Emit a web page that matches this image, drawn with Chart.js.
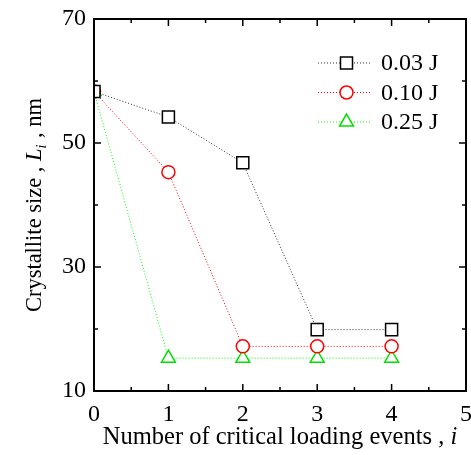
<!DOCTYPE html>
<html>
<head>
<meta charset="utf-8">
<script src="https://cdn.jsdelivr.net/npm/chart.js@4"></script>
<style>
  html, body { margin: 0; padding: 0; background: #fff; }
  #wrap { width: 471px; height: 455px; }
</style>
</head>
<body>
<div id="wrap"><canvas id="myChart" width="471" height="455"></canvas></div>
<script>
const events = [0, 1, 2, 3, 4]
const size003 = [58.3, 54.2, 46.8, 19.9, 19.9]
const size010 = [58.3, 45.3, 17.2, 17.2, 17.2]
const size025 = [58.3, 15.3, 15.3, 15.3, 15.3]
const seriesLabels = ['0.03 J', '0.10 J', '0.25 J']
const xTicks = [0, 1, 2, 3, 4, 5]
const yTicks = [10, 30, 50, 70]

const serif = '"Liberation Serif", "Times New Roman", serif'

const toPoints = (vals) => vals.map((v, i) => ({ x: events[i], y: v }))

const makeSet = (label, vals, color, lineColor, style, radius) => ({
  label: label,
  data: toPoints(vals),
  borderColor: lineColor,
  borderWidth: 1,
  borderDash: [1, 2],
  pointStyle: style,
  pointRadius: radius,
  pointBorderColor: color,
  pointBackgroundColor: '#fff',
  pointBorderWidth: 1.5,
  tension: 0,
})

// frame with inward ticks on all four sides
const framePlugin = {
  id: 'frame',
  afterDatasetsDraw(chart) {
    const { ctx, chartArea: a, scales } = chart
    ctx.save()
    ctx.strokeStyle = '#000'
    ctx.lineWidth = 2
    ctx.strokeRect(a.left, a.top, a.right - a.left, a.bottom - a.top)
    ctx.lineWidth = 1.5
    for (let v = 0; v <= 5; v += 0.5) {
      const px = scales.x.getPixelForValue(v)
      const len = Number.isInteger(v) ? 7 : 4
      ctx.beginPath()
      ctx.moveTo(px, a.bottom); ctx.lineTo(px, a.bottom - len)
      ctx.moveTo(px, a.top); ctx.lineTo(px, a.top + len)
      ctx.stroke()
    }
    for (let v = 10; v <= 70; v += 10) {
      const py = scales.y.getPixelForValue(v)
      const len = (v - 10) % 20 === 0 ? 7 : 4
      ctx.beginPath()
      ctx.moveTo(a.left, py); ctx.lineTo(a.left + len, py)
      ctx.moveTo(a.right, py); ctx.lineTo(a.right - len, py)
      ctx.stroke()
    }
    ctx.restore()
  },
}

// axis titles with italic symbols
const drawRich = (ctx, parts, x, y) => {
  let total = 0
  parts.forEach((p) => { ctx.font = p.font; total += ctx.measureText(p.text).width + (p.dx || 0) })
  let cx = x - total / 2
  parts.forEach((p) => {
    ctx.font = p.font
    ctx.fillText(p.text, cx, y + (p.dy || 0))
    cx += ctx.measureText(p.text).width + (p.dx || 0)
  })
}

const titlePlugin = {
  id: 'titles',
  afterDraw(chart) {
    const { ctx, chartArea: a } = chart
    ctx.save()
    ctx.fillStyle = '#000'
    ctx.textBaseline = 'alphabetic'
    ctx.textAlign = 'left'
    drawRich(ctx, [
      { text: 'Number of critical loading events , ', font: '24.5px ' + serif },
      { text: 'i', font: 'italic 24.5px ' + serif },
    ], (a.left + a.right) / 2, 444)
    ctx.translate(41, (a.top + a.bottom) / 2)
    ctx.rotate(-Math.PI / 2)
    drawRich(ctx, [
      { text: 'Crystallite size , ', font: '22.5px ' + serif },
      { text: 'L', font: 'italic 22.5px ' + serif },
      { text: 'i', font: 'italic 14px ' + serif, dy: 5, dx: 1 },
      { text: ' , nm', font: '22.5px ' + serif },
    ], 0, 0)
    ctx.restore()
  },
}

// legend: dotted line sample, marker, label
const legendPlugin = {
  id: 'sampleLegend',
  afterDraw(chart) {
    const { ctx } = chart
    ctx.save()
    chart.data.datasets.forEach((ds, i) => {
      const y = 63 + i * 29.5
      ctx.strokeStyle = ds.borderColor
      ctx.lineWidth = 1
      ctx.setLineDash([1, 2])
      ctx.beginPath()
      ctx.moveTo(318, y); ctx.lineTo(372, y)
      ctx.stroke()
      ctx.setLineDash([])
      ctx.strokeStyle = ds.pointBorderColor
      ctx.fillStyle = '#fff'
      ctx.lineWidth = ds.pointBorderWidth
      Chart.helpers.drawPoint(ctx, { pointStyle: ds.pointStyle, radius: ds.pointRadius, borderWidth: ds.pointBorderWidth, rotation: 0 }, 346.5, y)
      ctx.fillStyle = '#000'
      ctx.font = '24px ' + serif
      ctx.textBaseline = 'middle'
      ctx.fillText(ds.label, 381, y + 1)
    })
    ctx.restore()
  },
}

const ctx = document.getElementById('myChart')
new Chart(ctx, {
  type: 'line',
  data: {
    datasets: [
      makeSet(seriesLabels[0], size003, '#000', '#333', 'rect', 8.5),
      makeSet(seriesLabels[1], size010, '#ff0000', '#ff0000', 'circle', 6.5),
      makeSet(seriesLabels[2], size025, '#00e000', '#00ff00', 'triangle', 8),
    ],
  },
  options: {
    responsive: false,
    animation: false,
    layout: { autoPadding: false, padding: { top: 19, right: 5, left: 0, bottom: 0 } },
    plugins: { legend: { display: false }, tooltip: { enabled: false } },
    scales: {
      x: {
        type: 'linear',
        min: 0,
        max: 5,
        afterBuildTicks: (s) => { s.ticks = xTicks.map((v) => ({ value: v })) },
        afterFit: (s) => { s.height = 64; s.paddingRight = 0; s.paddingLeft = 0 },
        grid: { display: false },
        border: { display: false },
        ticks: { color: '#000', font: { family: serif, size: 24 }, padding: 1, maxRotation: 0 },
      },
      y: {
        min: 10,
        max: 70,
        afterBuildTicks: (s) => { s.ticks = yTicks.map((v) => ({ value: v })) },
        afterFit: (s) => { s.width = 94; s.paddingTop = 0; s.paddingBottom = 0 },
        grid: { display: false },
        border: { display: false },
        ticks: { color: '#000', font: { family: serif, size: 24 }, padding: 0 },
      },
    },
  },
  plugins: [framePlugin, titlePlugin, legendPlugin],
})
</script>
</body>
</html>
